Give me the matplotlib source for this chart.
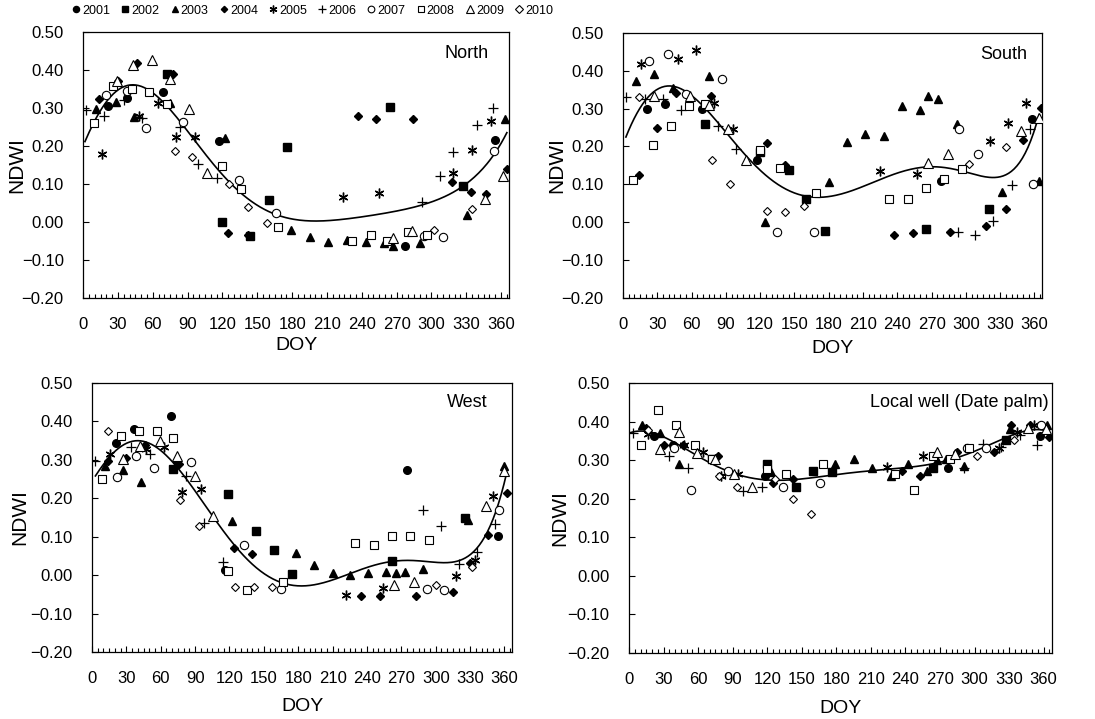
import numpy as np
import matplotlib.pyplot as plt
from matplotlib.ticker import MultipleLocator, FuncFormatter
from matplotlib.lines import Line2D

plt.rcParams['font.family'] = ['Liberation Sans', 'DejaVu Sans']

years = [2001, 2002, 2003, 2004, 2005, 2006, 2007, 2008, 2009, 2010]

# (DOY, NDWI), per site and year
north = {
    2001: [(21, 0.305), (38, 0.327), (69, 0.343), (117, 0.213), (277, -0.063), (355, 0.216)],
    2002: [(72, 0.389), (120, 0.0), (144, -0.036), (160, 0.058), (176, 0.197), (264, 0.303), (327, 0.095)],
    2003: [(11, 0.297), (28, 0.315), (44, 0.277), (75, 0.314), (122, 0.22), (179, -0.02), (195, -0.04),
           (211, -0.052), (227, -0.048), (244, -0.053), (259, -0.055), (267, -0.063), (290, -0.055),
           (331, 0.018), (363, 0.27)],
    2004: [(14, 0.323), (30, 0.37), (46, 0.418), (77, 0.39), (125, -0.03), (142, -0.035), (237, 0.278),
           (252, 0.27), (284, 0.27), (318, 0.106), (334, 0.08), (347, 0.073), (365, 0.14)],
    2005: [(16, 0.18), (48, 0.28), (64, 0.313), (80, 0.225), (96, 0.225), (224, 0.067), (255, 0.077),
           (319, 0.13), (335, 0.19), (351, 0.265)],
    2006: [(2, 0.295), (18, 0.278), (35, 0.32), (51, 0.275), (83, 0.25), (99, 0.152), (115, 0.115),
           (292, 0.052), (307, 0.122), (319, 0.185), (339, 0.255), (353, 0.3)],
    2007: [(20, 0.333), (38, 0.345), (54, 0.248), (86, 0.262), (134, 0.11), (166, 0.025), (294, -0.038),
           (310, -0.04), (354, 0.186)],
    2008: [(9, 0.26), (26, 0.357), (42, 0.35), (57, 0.342), (72, 0.31), (120, 0.148), (136, 0.086),
           (168, -0.013), (232, -0.05), (248, -0.035), (262, -0.05), (280, -0.025), (296, -0.035)],
    2009: [(29, 0.37), (43, 0.412), (59, 0.425), (75, 0.377), (91, 0.297), (107, 0.13), (267, -0.043),
           (283, -0.023), (346, 0.06), (362, 0.12)],
    2010: [(79, 0.187), (94, 0.172), (126, 0.1), (142, 0.04), (158, -0.003), (302, -0.02), (335, 0.035)],
}

south = {
    2001: [(21, 0.30), (37, 0.311), (69, 0.30), (117, 0.165), (278, 0.108), (358, 0.273)],
    2002: [(72, 0.26), (120, 0.185), (145, 0.137), (160, 0.062), (177, -0.022), (265, -0.017), (320, 0.035)],
    2003: [(11, 0.372), (27, 0.392), (44, 0.355), (75, 0.387), (124, 0.0), (180, 0.106), (196, 0.212),
           (212, 0.233), (228, 0.227), (244, 0.306), (260, 0.296), (267, 0.334), (276, 0.326),
           (292, 0.26), (332, 0.08), (364, 0.109)],
    2004: [(14, 0.125), (30, 0.249), (46, 0.342), (77, 0.333), (126, 0.209), (142, 0.15), (237, -0.035),
           (254, -0.028), (286, -0.026), (318, -0.011), (335, 0.036), (350, 0.218), (366, 0.302)],
    2005: [(16, 0.418), (48, 0.43), (64, 0.454), (80, 0.315), (96, 0.245), (225, 0.135), (257, 0.128),
           (321, 0.214), (337, 0.262), (353, 0.315)],
    2006: [(3, 0.331), (19, 0.324), (35, 0.324), (51, 0.296), (83, 0.253), (99, 0.192), (293, -0.026),
           (308, -0.033), (324, 0.004), (340, 0.097), (356, 0.245)],
    2007: [(23, 0.425), (39, 0.444), (55, 0.337), (87, 0.378), (135, -0.027), (167, -0.027), (294, 0.247),
           (311, 0.18), (359, 0.1)],
    2008: [(9, 0.111), (26, 0.204), (42, 0.253), (58, 0.306), (72, 0.312), (120, 0.19), (137, 0.142),
           (169, 0.076), (233, 0.062), (249, 0.062), (265, 0.091), (281, 0.115), (297, 0.141)],
    2009: [(27, 0.333), (59, 0.333), (75, 0.308), (92, 0.246), (108, 0.163), (267, 0.157), (284, 0.18),
           (348, 0.242), (364, 0.274)],
    2010: [(14, 0.331), (78, 0.164), (94, 0.101), (126, 0.029), (142, 0.026), (158, 0.042), (303, 0.154),
           (335, 0.198)],
}

west = {
    2001: [(21, 0.345), (37, 0.38), (69, 0.415), (116, 0.013), (275, 0.274), (354, 0.103)],
    2002: [(71, 0.277), (119, 0.21), (143, 0.114), (159, 0.065), (175, 0.003), (262, 0.037), (326, 0.15)],
    2003: [(11, 0.283), (27, 0.274), (43, 0.243), (74, 0.302), (122, 0.14), (178, 0.057), (194, 0.027),
           (210, 0.006), (225, 0.001), (241, 0.006), (257, 0.008), (265, 0.006), (273, 0.008),
           (289, 0.015), (328, 0.143), (360, 0.283)],
    2004: [(14, 0.298), (30, 0.305), (46, 0.338), (76, 0.289), (124, 0.072), (140, 0.056), (235, -0.055),
           (251, -0.055), (283, -0.055), (315, -0.043), (330, 0.032), (346, 0.104), (362, 0.215)],
    2005: [(16, 0.315), (47, 0.328), (63, 0.333), (79, 0.216), (95, 0.223), (222, -0.052), (254, -0.033),
           (318, -0.003), (334, 0.039), (350, 0.206)],
    2006: [(3, 0.298), (34, 0.333), (51, 0.316), (82, 0.257), (98, 0.137), (114, 0.035), (289, 0.17),
           (305, 0.128), (320, 0.03), (336, 0.061), (352, 0.133)],
    2007: [(22, 0.255), (38, 0.309), (54, 0.278), (86, 0.294), (133, 0.078), (165, -0.035), (292, -0.035),
           (307, -0.039), (355, 0.17)],
    2008: [(9, 0.25), (25, 0.363), (41, 0.374), (57, 0.376), (71, 0.357), (119, 0.011), (135, -0.039),
           (167, -0.019), (230, 0.084), (246, 0.078), (262, 0.103), (278, 0.103), (294, 0.091)],
    2009: [(27, 0.302), (42, 0.335), (59, 0.348), (74, 0.309), (90, 0.259), (106, 0.154), (264, -0.026),
           (281, -0.017), (344, 0.181), (360, 0.27)],
    2010: [(14, 0.376), (77, 0.196), (93, 0.129), (125, -0.03), (141, -0.03), (157, -0.03), (300, -0.026),
           (332, 0.02)],
}

local = {
    2001: [(22, 0.362), (38, 0.34), (118, 0.26), (277, 0.28), (357, 0.362)],
    2002: [(72, 0.302), (120, 0.291), (145, 0.23), (160, 0.271), (176, 0.269), (264, 0.28), (327, 0.351)],
    2003: [(11, 0.392), (27, 0.371), (43, 0.29), (74, 0.303), (123, 0.269), (179, 0.29), (195, 0.302),
           (211, 0.28), (227, 0.26), (242, 0.29), (259, 0.272), (267, 0.3), (275, 0.302), (291, 0.286),
           (331, 0.381), (363, 0.392)],
    2004: [(15, 0.384), (30, 0.34), (47, 0.34), (77, 0.31), (125, 0.241), (142, 0.252), (237, 0.272),
           (253, 0.26), (285, 0.321), (317, 0.321), (332, 0.392), (348, 0.392), (365, 0.36)],
    2005: [(16, 0.369), (48, 0.34), (64, 0.322), (80, 0.26), (95, 0.263), (224, 0.283), (255, 0.31),
           (321, 0.332), (337, 0.372), (352, 0.392)],
    2006: [(3, 0.371), (35, 0.31), (51, 0.28), (83, 0.263), (99, 0.22), (115, 0.23), (291, 0.28),
           (307, 0.342), (323, 0.334), (339, 0.366), (354, 0.34)],
    2007: [(39, 0.332), (54, 0.222), (86, 0.273), (134, 0.231), (166, 0.241), (293, 0.332), (310, 0.332),
           (358, 0.392)],
    2008: [(10, 0.34), (25, 0.431), (41, 0.392), (57, 0.34), (72, 0.302), (120, 0.278), (136, 0.263),
           (168, 0.29), (231, 0.263), (247, 0.222), (264, 0.31), (279, 0.302), (295, 0.332)],
    2009: [(27, 0.329), (43, 0.372), (59, 0.319), (75, 0.302), (91, 0.263), (107, 0.23), (267, 0.321),
           (283, 0.315), (346, 0.384), (362, 0.381)],
    2010: [(16, 0.379), (78, 0.26), (94, 0.231), (127, 0.25), (142, 0.2), (158, 0.161), (302, 0.31),
           (334, 0.351)],
}

# trend lines (DOY, NDWI)
north_fit = [(1.5, 0.21), (10, 0.27), (20, 0.318), (30, 0.345), (40, 0.357), (50, 0.355), (60, 0.342),
             (75, 0.305), (90, 0.238), (105, 0.172), (120, 0.12), (135, 0.08), (150, 0.048), (165, 0.025),
             (180, 0.008), (195, 0.001), (210, 0.0), (240, 0.014), (270, 0.03), (300, 0.055), (320, 0.08),
             (330, 0.097), (340, 0.125), (350, 0.165), (360, 0.21), (365, 0.232)]
south_fit = [(2.5, 0.222), (10, 0.28), (20, 0.325), (30, 0.348), (40, 0.355), (50, 0.352), (60, 0.338),
             (75, 0.293), (90, 0.24), (105, 0.183), (120, 0.133), (135, 0.098), (150, 0.076), (165, 0.07),
             (180, 0.072), (195, 0.08), (210, 0.093), (225, 0.11), (240, 0.126), (255, 0.14), (270, 0.148),
             (285, 0.147), (300, 0.136), (315, 0.12), (325, 0.113), (335, 0.12), (345, 0.152),
             (355, 0.21), (364, 0.28)]
west_fit = [(3, 0.255), (15, 0.315), (30, 0.342), (40, 0.345), (50, 0.337), (65, 0.315), (80, 0.268),
            (95, 0.2), (110, 0.13), (125, 0.072), (140, 0.025), (155, -0.005), (170, -0.02), (185, -0.025),
            (200, -0.02), (215, -0.008), (230, 0.008), (245, 0.022), (260, 0.034), (275, 0.039),
            (290, 0.038), (305, 0.036), (320, 0.037), (330, 0.048), (340, 0.085), (350, 0.15),
            (358, 0.22), (362, 0.265)]
local_fit = [(1, 0.371), (15, 0.375), (30, 0.36), (45, 0.335), (60, 0.31), (75, 0.29), (90, 0.265),
             (105, 0.252), (120, 0.248), (135, 0.249), (150, 0.252), (165, 0.258), (180, 0.263),
             (195, 0.267), (210, 0.271), (225, 0.276), (240, 0.281), (255, 0.287), (270, 0.295),
             (285, 0.307), (300, 0.322), (315, 0.342), (330, 0.362), (345, 0.377), (358, 0.378),
             (364, 0.375)]

site_names = ['North', 'South', 'West', 'Local well (Date palm)']

# marker styles per year
styles = {
    2001: dict(marker='o', ms=5.5, mfc='black', mec='black'),
    2002: dict(marker='s', ms=5.5, mfc='black', mec='black'),
    2003: dict(marker='^', ms=6, mfc='black', mec='black'),
    2004: dict(marker='D', ms=4, mfc='black', mec='black'),
    2005: dict(marker=(6, 2, 0), ms=7, mfc='black', mec='black', mew=1.0),
    2006: dict(marker='+', ms=7, mfc='black', mec='black', mew=0.9),
    2007: dict(marker='o', ms=6, mfc='white', mec='black', mew=0.8),
    2008: dict(marker='s', ms=6, mfc='white', mec='black', mew=0.8),
    2009: dict(marker='^', ms=6.5, mfc='white', mec='black', mew=0.8),
    2010: dict(marker='D', ms=4.5, mfc='white', mec='black', mew=0.8),
}

fig = plt.figure(figsize=(10.95, 7.19), dpi=100)
axpos = [[0.076, 0.5855, 0.389, 0.370],
         [0.569, 0.5855, 0.383, 0.369],
         [0.084, 0.0932, 0.384, 0.374],
         [0.5745, 0.0918, 0.386, 0.3755]]
label_xy = [(0.951, 0.92), (0.964, 0.917), (0.94, 0.926), (0.993, 0.926)]
ylab_x = [-0.155, -0.157, -0.171, -0.163]
xlab_y = [-0.177, -0.189, -0.204, -0.204]
datasets = [north, south, west, local]
fits = [north_fit, south_fit, west_fit, local_fit]


def fmt(v, pos):
    return f'{v:.2f}'.replace('-', '\u2212')


for i in range(4):
    ax = fig.add_axes(axpos[i])
    for yr in years:
        pts = np.array(datasets[i][yr])
        ax.plot(pts[:, 0], pts[:, 1], linestyle='none', zorder=3, **styles[yr])
    f = np.array(fits[i])
    c = np.polyfit(f[:, 0] / 365.0, f[:, 1], 8)
    xx = np.linspace(f[0, 0], f[-1, 0], 300)
    ax.plot(xx, np.polyval(c, xx / 365.0), color='black', lw=1.2, zorder=2)

    ax.set_xlim(0, 367)
    ax.set_ylim(-0.2, 0.5)
    ax.xaxis.set_major_locator(MultipleLocator(30))
    ax.xaxis.set_minor_locator(MultipleLocator(5))
    ax.yaxis.set_major_locator(MultipleLocator(0.1))
    ax.yaxis.set_major_formatter(FuncFormatter(fmt))
    ax.tick_params(axis='both', which='major', direction='in', length=4, width=0.8,
                   labelsize=12, pad=14)
    ax.tick_params(axis='x', which='minor', direction='in', length=3, width=0.8)
    for s in ax.spines.values():
        s.set_linewidth(0.9)
    ax.set_xlabel('DOY', fontsize=14)
    ax.set_ylabel('NDWI', fontsize=15)
    ax.yaxis.set_label_coords(ylab_x[i], 0.5)
    ax.xaxis.set_label_coords(0.5, xlab_y[i])
    ax.yaxis.label.set_va('center')
    ax.xaxis.label.set_va('center')
    ax.text(label_xy[i][0], label_xy[i][1], site_names[i], transform=ax.transAxes,
            ha='right', va='center', fontsize=13)

handles = []
for yr in years:
    st = dict(styles[yr])
    st['ms'] = st['ms'] * 0.8
    handles.append(Line2D([], [], linestyle='none', **st))
fig.legend(handles, [str(y) for y in years], loc='center left', bbox_to_anchor=(0.066, 0.985),
           ncol=10, frameon=False, fontsize=9, handlelength=0.6, handletextpad=0.2,
           columnspacing=0.9, borderpad=0, borderaxespad=0)

fig.savefig('out.png', dpi=100)
